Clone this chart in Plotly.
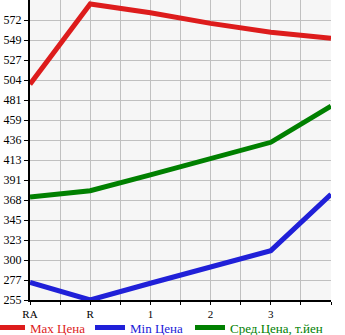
import plotly.graph_objects as go

categories = ["RA", "R", "1", "2", "3", ""]
max_price = [500, 591, 581, 569, 559, 552]
min_price = [275, 255, 274, 292, 311, 375]
avg_price = [372, 379, 397, 416, 434, 475]
y_tick_labels = ["255", "277", "300", "323", "345", "368", "391", "413",
                 "436", "459", "481", "504", "527", "549", "572"]
y_start = 255.0
y_step = 22.7

xs = list(range(len(categories)))
tickvals = [y_start + i * y_step for i in range(len(y_tick_labels))]
font = "Liberation Serif, Times New Roman, serif"

fig = go.Figure()
fig.add_trace(go.Scatter(x=xs, y=max_price, mode="lines", name="Max Цена",
                         line=dict(color="#dd1c1c", width=5), legend="legend"))
fig.add_trace(go.Scatter(x=xs, y=min_price, mode="lines", name="Min Цена",
                         line=dict(color="#2020d8", width=5), legend="legend2"))
fig.add_trace(go.Scatter(x=xs, y=avg_price, mode="lines", name="Сред.Цена, т.йен",
                         line=dict(color="#008000", width=5), legend="legend3"))

def leg(xpx, color):
    return dict(orientation="h", xref="paper", yref="container",
                x=(xpx - 30) / 301, y=1 - 327.5 / 335, xanchor="left", yanchor="middle",
                font=dict(family=font, size=13, color=color), itemwidth=30,
                bgcolor="rgba(0,0,0,0)", borderwidth=0)

fig.update_layout(
    width=345, height=335,
    margin=dict(l=30, r=14, t=0, b=35, autoexpand=False),
    plot_bgcolor="#f6f6f6", paper_bgcolor="white",
    font=dict(family=font, size=12, color="black"),
    showlegend=True,
    legend=leg(-10, "#dd1c1c"),
    legend2=leg(90, "#2020d8"),
    legend3=leg(190, "#008000"),
)
fig.update_xaxes(range=[0, len(categories) - 1], tickvals=xs, ticktext=categories,
                 showgrid=True, gridcolor="#c0c0c0", gridwidth=1,
                 showline=True, linecolor="black", linewidth=2,
                 ticks="outside", ticklen=3, tickcolor="black",
                 minor=dict(dtick=0.5, tick0=0, showgrid=True, gridcolor="#c0c0c0",
                            ticks="outside", ticklen=3, tickcolor="black"),
                 tickfont=dict(family=font, size=11), zeroline=False, fixedrange=True)
fig.update_yaxes(range=[y_start, y_start + 15 * y_step], tickvals=tickvals,
                 ticktext=y_tick_labels,
                 showgrid=True, gridcolor="#c0c0c0", gridwidth=1,
                 showline=True, linecolor="black", linewidth=2,
                 ticks="outside", ticklen=4, tickcolor="black",
                 tickfont=dict(family=font, size=12), zeroline=False, fixedrange=True)

fig.write_html("out.html")
